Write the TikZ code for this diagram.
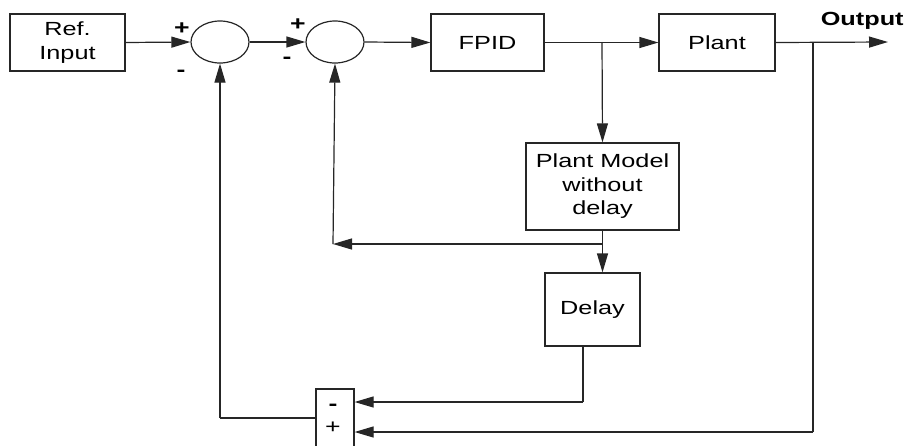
\documentclass[tikz,border=0pt]{standalone}
\usepackage{fontspec}
\setmainfont[FakeStretch=1.33, BoldFeatures={FakeStretch=1.33}]{Liberation Sans}
\usetikzlibrary{arrows.meta,shapes.geometric}

\begin{document}
\begin{tikzpicture}[
    x=0.5pt, y=-0.5pt,
    block/.style={draw=black!85, line width=0.6pt, rectangle,
                  font=\fontsize{9.5}{11.75}\selectfont,
                  align=center, inner sep=0pt},
    summer/.style={draw=black!85, line width=0.6pt, ellipse,
                   minimum width=29pt, minimum height=21pt, inner sep=0pt},
    arr/.style={-{Triangle[length=9.5pt,width=5.5pt]}, line width=0.6pt, black!85},
    line/.style={line width=0.6pt, black!85},
    sgn/.style={font=\bfseries\fontsize{10}{10}\selectfont, inner sep=0pt},
]
\useasboundingbox (0,0) rectangle (908,445);

% --- Forward path ---
\node[block, minimum width=57.5pt, minimum height=28.5pt]
    (ref) at (67.5, 42.5) {Ref.\\Input};
\node[summer] (sum1) at (220, 42) {};
\node[summer] (sum2) at (335, 42) {};
\node[block, minimum width=56.5pt, minimum height=28.5pt]
    (fpid) at (487.5, 42.5) {FPID};
\node[block, minimum width=58pt, minimum height=28.5pt]
    (plant) at (717, 42.5) {Plant};

\coordinate (tapu) at (602, 42);
\coordinate (tapy) at (813, 42);
\coordinate (out) at (888, 42);

\draw[arr] (ref.east) -- (sum1.west);
\draw[arr] (sum1.east) -- (sum2.west);
\draw[arr] (sum2.east) -- (fpid.west);
\draw[arr] (fpid.east) -- (plant.west);
\draw[arr] (plant.east) -- (out);

\node[font=\bfseries\fontsize{9.5}{10}\selectfont, anchor=base east, inner sep=0pt]
    (outlbl) at (904, 25) {Output};

% Signs at the summers
\node[sgn] (p1) at (182, 29) {+};
\node[sgn] (m1) at (181, 73) {-};
\node[sgn] (p2) at (298, 25) {+};
\node[sgn] (m2) at (287, 60) {-};

% --- Smith predictor ---
\node[block, minimum width=76.5pt, minimum height=43.5pt]
    (model) at (602.5, 186.5) {Plant Model\\without\\delay};
\node[block, minimum width=47.5pt, minimum height=36.5pt]
    (delay) at (592.5, 309.5) {Delay};

\coordinate (tapm) at (602, 244);
\coordinate (cnr2) at (333, 244);

\draw[arr] (tapu) -- (model.north);
\draw[arr] (model.south) -- (model.south |- delay.north);
\draw[arr] (tapm) -- (cnr2);
\draw[arr] (cnr2) -- (sum2.south);

% --- Error comparison ---
\node[block, minimum width=19pt, minimum height=33pt]
    (comb) at (335, 422) {};
\node[sgn] (m3) at (333, 407) {-};
\node[sgn, font=\fontsize{10}{10}\selectfont] (p3) at (333, 428) {+};

\coordinate (dly) at (583, 402);
\coordinate (yb) at (813, 432);
\coordinate (cnr1) at (220, 418);

\draw[line] ([xshift=-4.75pt]delay.south) -- (dly);
\draw[arr] (dly) -- (dly -| comb.east);
\draw[line] (tapy) -- (yb);
\draw[arr] (yb) -- (yb -| comb.east);
\draw[line] (cnr1 -| comb.west) -- (cnr1);
\draw[arr] (cnr1) -- (sum1.south);

\end{tikzpicture}
\end{document}
